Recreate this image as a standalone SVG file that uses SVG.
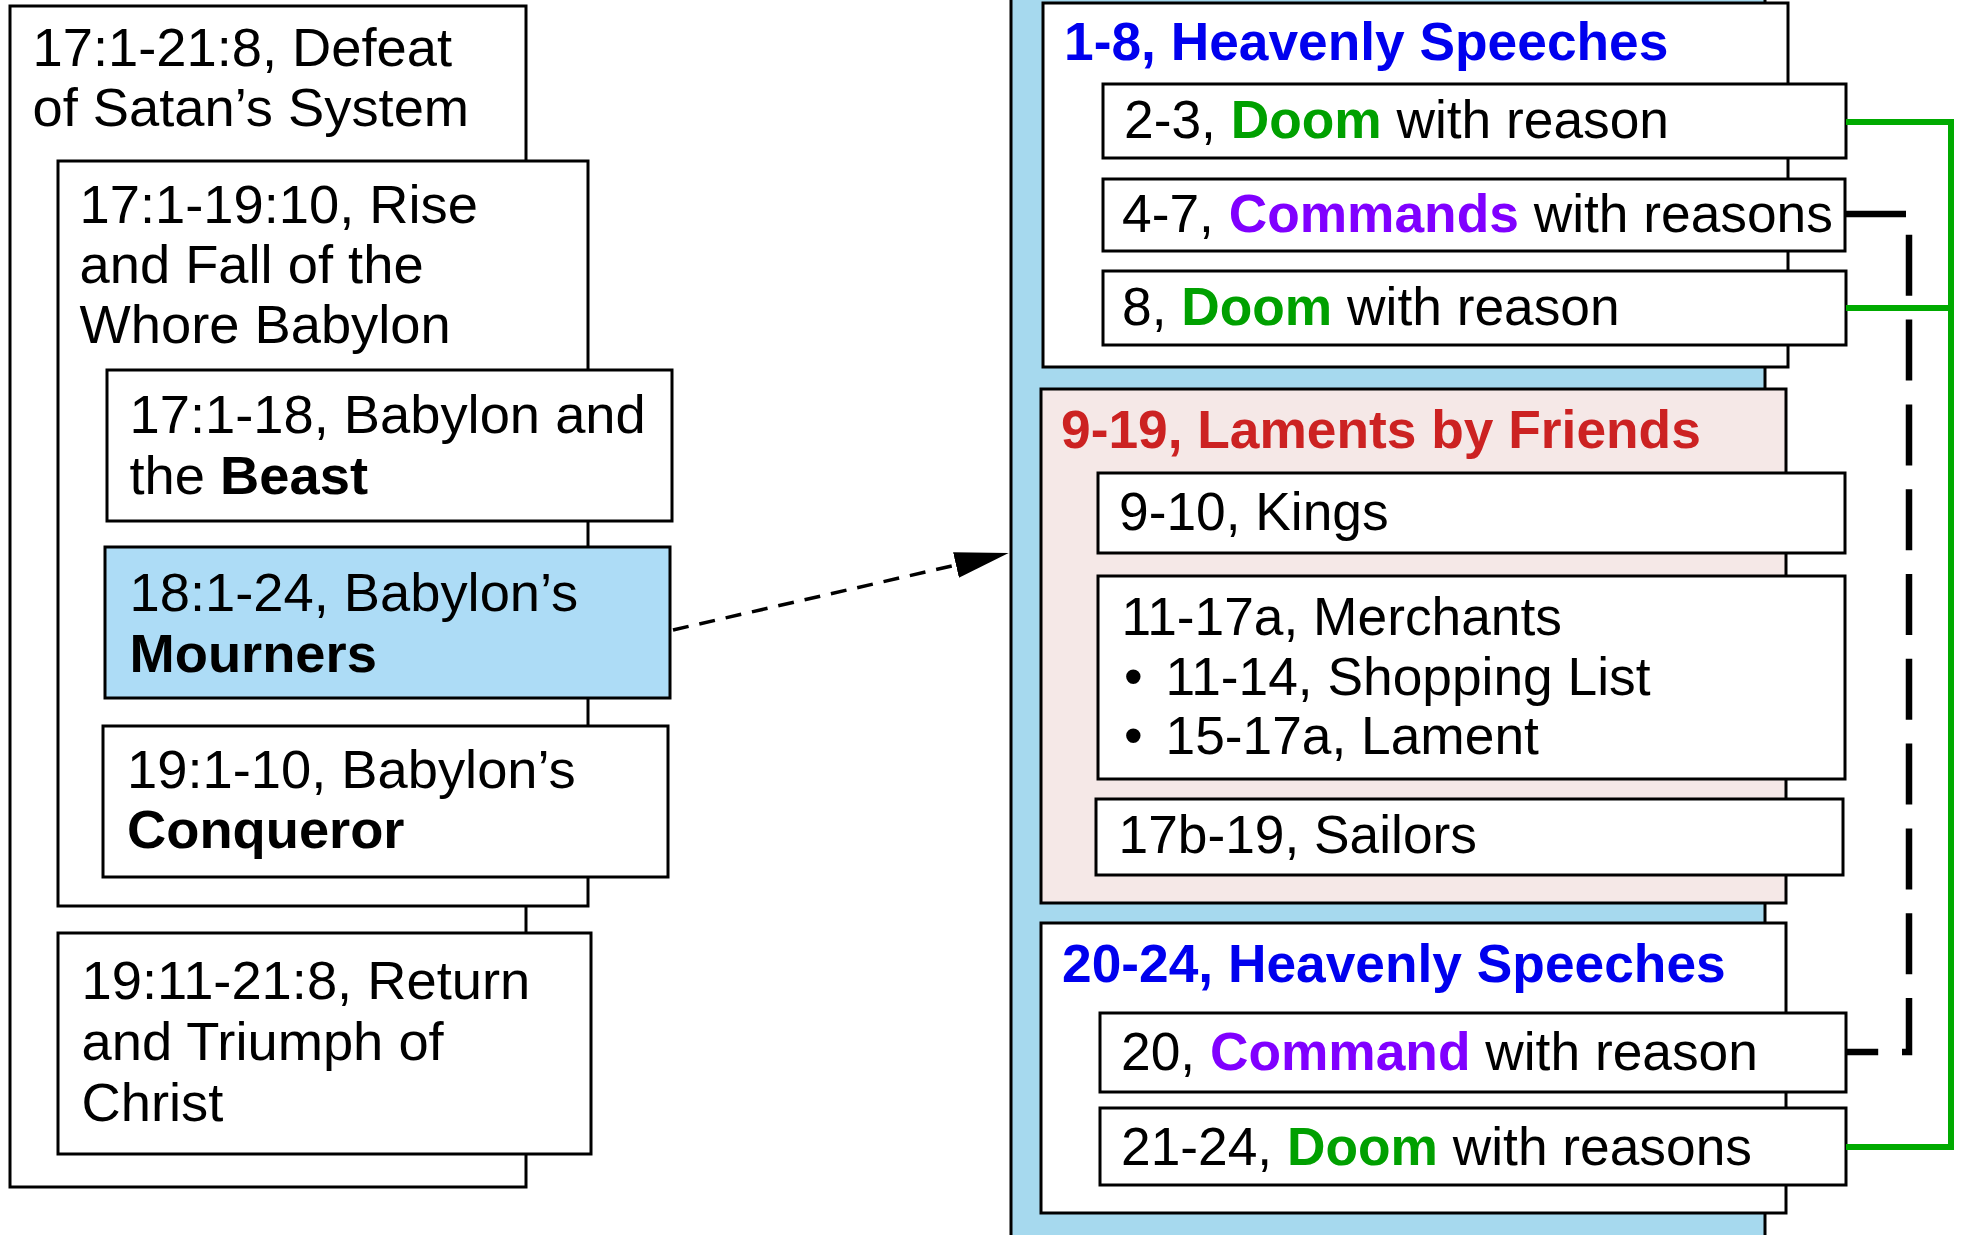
<svg xmlns="http://www.w3.org/2000/svg" width="1963" height="1235" viewBox="0 0 1963 1235">
<defs>
<style>
.box{stroke:#000;stroke-width:3;fill:#fff}
.blue{fill:#addcf6}
.bigblue{fill:#a6d9ee}
.pink{fill:#f5e8e7}
text{font-family:"Liberation Sans",Arial,Helvetica,sans-serif;font-size:53.3px;fill:#000}
.l{font-size:54.3px}
.b{font-weight:bold}
.doom{fill:#00a000;font-weight:bold}
.cmd{fill:#8000ff;font-weight:bold}
.hs{fill:#0000ee;font-weight:bold}
.lam{fill:#cc2222;font-weight:bold}
.green{fill:none;stroke:#00aa00;stroke-width:6}
.dash{fill:none;stroke:#000;stroke-width:6.5;stroke-dasharray:61 23.8}
.arrow{fill:none;stroke:#000;stroke-width:3.5;stroke-dasharray:16 11}
</style>
<marker id="ah" markerUnits="userSpaceOnUse" markerWidth="60" markerHeight="30" viewBox="0 -15 60 30" refX="0" refY="0" orient="auto">
<path d="M0,-13 L54,0 L0,13 z" fill="#000"/>
</marker>
</defs>
<rect width="1963" height="1235" fill="#fff"/>

<g id="n-outer">
<rect class="box" x="10" y="6" width="516" height="1181"/>
<text class="l" x="32.5" y="66">17:1-21:8, Defeat</text>
<text class="l" x="32.5" y="126">of Satan’s System</text>
</g>
<g id="n-rise-fall">
<rect class="box" x="58" y="161" width="530" height="745"/>
<text class="l" x="79.5" y="223">17:1-19:10, Rise</text>
<text class="l" x="79.5" y="283">and Fall of the</text>
<text class="l" x="79.5" y="343">Whore Babylon</text>
</g>
<g id="n-beast">
<rect class="box" x="107" y="370" width="565" height="151"/>
<text class="l" x="129.5" y="433">17:1-18, Babylon and</text>
<text class="l" x="129.5" y="494">the <tspan class="b">Beast</tspan></text>
</g>
<g id="n-mourners">
<rect class="box blue" x="105" y="547" width="565" height="151"/>
<text class="l" x="129.5" y="611">18:1-24, Babylon’s</text>
<text class="l b" x="129.5" y="672">Mourners</text>
</g>
<g id="n-conqueror">
<rect class="box" x="103" y="726" width="565" height="151"/>
<text class="l" x="127" y="788">19:1-10, Babylon’s</text>
<text class="l b" x="127" y="848">Conqueror</text>
</g>
<g id="n-return">
<rect class="box" x="58" y="933" width="533" height="221"/>
<text class="l" x="81.5" y="999">19:11-21:8, Return</text>
<text class="l" x="81.5" y="1060">and Triumph of</text>
<text class="l" x="81.5" y="1121">Christ</text>
</g>

<g id="n-ch18">
<rect class="box bigblue" x="1011" y="-10" width="754" height="1260"/>
</g>
<g id="n-heavenly1">
<rect class="box" x="1043" y="3" width="745" height="364"/>
<text x="1064" y="60" class="hs">1-8, Heavenly Speeches</text>
</g>
<g id="n-doom23">
<rect class="box" x="1103" y="84" width="743" height="74"/>
<text x="1124" y="138">2-3, <tspan class="doom">Doom</tspan> with reason</text>
</g>
<g id="n-cmd47">
<rect class="box" x="1103" y="179" width="742" height="72"/>
<text x="1122" y="232">4-7, <tspan class="cmd">Commands</tspan> with reasons</text>
</g>
<g id="n-doom8">
<rect class="box" x="1103" y="271" width="743" height="74"/>
<text x="1122" y="325">8, <tspan class="doom">Doom</tspan> with reason</text>
</g>
<g id="n-laments">
<rect class="box pink" x="1041" y="389" width="745" height="514"/>
<text x="1061" y="448" class="lam">9-19, Laments by Friends</text>
</g>
<g id="n-kings">
<rect class="box" x="1098" y="473" width="747" height="80"/>
<text x="1119" y="530">9-10, Kings</text>
</g>
<g id="n-merchants">
<rect class="box" x="1098" y="576" width="747" height="203"/>
<text x="1121.5" y="635">11-17a, Merchants</text>
<text y="695"><tspan x="1124">•</tspan><tspan x="1165.5">11-14, Shopping List</tspan></text>
<text y="754"><tspan x="1124">•</tspan><tspan x="1165.5">15-17a, Lament</tspan></text>
</g>
<g id="n-sailors">
<rect class="box" x="1096" y="799" width="747" height="76"/>
<text x="1118.5" y="853">17b-19, Sailors</text>
</g>
<g id="n-heavenly2">
<rect class="box" x="1041" y="923" width="745" height="290"/>
<text x="1062" y="982" class="hs">20-24, Heavenly Speeches</text>
</g>
<g id="n-cmd20">
<rect class="box" x="1100" y="1013" width="746" height="79"/>
<text x="1121" y="1070">20, <tspan class="cmd">Command</tspan> with reason</text>
</g>
<g id="n-doom2124">
<rect class="box" x="1100" y="1108" width="746" height="77"/>
<text x="1121" y="1165">21-24, <tspan class="doom">Doom</tspan> with reasons</text>
</g>

<g id="connectors">
<path class="arrow" d="M673,630 L956,565" marker-end="url(#ah)"/>
<path class="green" d="M1846,122 H1951 V1147 H1846"/>
<path class="green" d="M1846,308 H1951"/>
<path class="dash" d="M1845,214 H1909 V1052 H1846"/>
</g>
</svg>
